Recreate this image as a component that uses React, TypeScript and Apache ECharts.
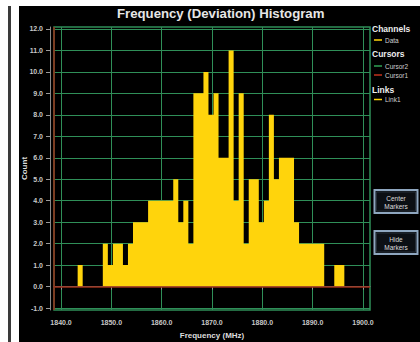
import React, { useEffect, useRef } from "react";
import * as echarts from "echarts";

// Histogram bins (MHz) and counts
const binStart = 1843.3;
const binWidth = 1.0;
const counts = [
  1, 0, 0, 0, 0, 2, 1, 2, 2, 1, 2, 3, 3, 3, 4, 4, 4, 4, 4, 5, 3, 4, 2, 9, 9, 10,
  8, 9, 6, 6, 11, 4, 9, 2, 5, 5, 3, 4, 8, 5, 6, 6, 6, 3, 2, 2, 2, 2, 2, 0, 0, 1,
  1, 0,
];
const xTicks = [1840, 1850, 1860, 1870, 1880, 1890, 1900];
const yTicks = [-1, 0, 1, 2, 3, 4, 5, 6, 7, 8, 9, 10, 11, 12];
const xRange = [1838.6, 1901.4];
const yRange = [-1.09, 12.09];

const FONT = '"Liberation Sans", Arial, sans-serif';
const YELLOW = "#ffd40c";
const GREEN = "#2f8f58";
const RED = "#9a2e18";

export default function App() {
  const ref = useRef<HTMLDivElement>(null);
  useEffect(() => {
    if (!ref.current) return;
    const chart = echarts.init(ref.current, undefined, { renderer: "svg" });
    const pts: number[][] = counts.map((c, i) => [binStart + i * binWidth, c]);
    pts.push([binStart + counts.length * binWidth, counts[counts.length - 1]]);

    const legendText = (text: string, x: number, y: number, bold: boolean) => ({
      type: "text",
      x,
      y,
      silent: true,
      style: {
        text,
        fill: bold ? "#eeeeee" : "#cfcfcf",
        fontSize: bold ? 8.5 : 6.5,
        fontWeight: bold ? "bold" : "normal",
        fontFamily: FONT,
        verticalAlign: "middle",
        align: "left",
      },
    });
    const legendLine = (color: string, y: number) => ({
      type: "line",
      silent: true,
      shape: { x1: 355, y1: y, x2: 363, y2: y },
      style: { stroke: color, lineWidth: 1.5 },
    });
    const button = (l1: string, l2: string, y: number) => ({
      type: "group",
      silent: true,
      children: [
        {
          type: "rect",
          shape: { x: 355.5, y: y, width: 43, height: 23 },
          style: { fill: "#0c0f14", stroke: "#8ea6bf", lineWidth: 2 },
        },
        {
          type: "rect",
          shape: { x: 357.5, y: y + 2, width: 39, height: 19 },
          style: { fill: "none", stroke: "#2c3540", lineWidth: 0.8 },
        },
        {
          type: "text",
          x: 377,
          y: y + 8,
          style: {
            text: l1,
            fill: "#dddddd",
            fontSize: 6.5,
            fontFamily: FONT,
            align: "center",
            verticalAlign: "middle",
          },
        },
        {
          type: "text",
          x: 377,
          y: y + 16,
          style: {
            text: l2,
            fill: "#dddddd",
            fontSize: 6.5,
            fontFamily: FONT,
            align: "center",
            verticalAlign: "middle",
          },
        },
      ],
    });

    chart.setOption({
      animation: false,
      backgroundColor: "#000000",
      title: {
        text: "Frequency (Deviation) Histogram",
        left: 98,
        top: 1,
        padding: 0,
        textStyle: {
          color: "#e6e6e6",
          fontSize: 13.2,
          fontWeight: "bold",
          fontFamily: FONT,
        },
      },
      grid: {
        left: 35,
        top: 21,
        width: 316,
        height: 283,
        containLabel: false,
        outerBoundsMode: "none",
        show: true,
        borderColor: GREEN,
        borderWidth: 1.5,
        backgroundColor: "transparent",
      },
      xAxis: {
        type: "value",
        min: xRange[0],
        max: xRange[1],
        offset: 3,
        name: "Frequency (MHz)",
        nameLocation: "middle",
        nameGap: 18,
        nameMoveOverlap: false,
        nameTextStyle: {
          color: "#dddddd",
          fontSize: 8,
          fontWeight: "bold",
          fontFamily: FONT,
        },
        axisLine: { show: true, lineStyle: { color: "#8a8a8a", width: 1 } },
        axisTick: {
          show: true,
          length: 3,
          customValues: xTicks,
          lineStyle: { color: "#9a9a9a" },
        },
        axisLabel: {
          customValues: xTicks,
          color: "#c8c8c8",
          fontSize: 7,
          fontWeight: "bold",
          fontFamily: FONT,
          margin: 6,
          formatter: (v: number) => v.toFixed(1),
        },
        splitLine: { show: true, lineStyle: { color: GREEN, width: 1 } },
      },
      yAxis: {
        type: "value",
        min: yRange[0],
        max: yRange[1],
        offset: 4,
        name: "Count",
        nameLocation: "middle",
        nameGap: 22,
        nameRotate: 90,
        nameMoveOverlap: false,
        nameTextStyle: {
          color: "#dddddd",
          fontSize: 8,
          fontWeight: "bold",
          fontFamily: FONT,
        },
        axisLine: { show: true, lineStyle: { color: "#8a8a8a", width: 1 } },
        axisTick: {
          show: true,
          length: 4,
          customValues: yTicks,
          lineStyle: { color: "#9a9a9a" },
        },
        axisLabel: {
          customValues: yTicks,
          color: "#c8c8c8",
          fontSize: 7,
          fontWeight: "bold",
          fontFamily: FONT,
          margin: 7,
          formatter: (v: number) => v.toFixed(1),
        },
        splitLine: { show: true, lineStyle: { color: GREEN, width: 1 } },
      },
      series: [
        {
          type: "line",
          name: "Data",
          step: "end",
          data: pts,
          showSymbol: false,
          symbol: "none",
          lineStyle: { width: 0, color: YELLOW },
          areaStyle: { color: YELLOW, opacity: 1, origin: 0 },
          z: 3,
          markLine: {
            silent: true,
            symbol: "none",
            label: { show: false },
            lineStyle: { color: RED, width: 1.5, type: "solid" },
            data: [{ yAxis: 0 }],
          },
        },
      ],
      graphic: [
        {
          type: "line",
          silent: true,
          z: 10,
          shape: { x1: 35, y1: 21, x2: 35, y2: 304 },
          style: { stroke: RED, lineWidth: 1.5 },
        },
        legendText("Channels", 353, 23, true),
        legendLine(YELLOW, 34),
        legendText("Data", 366, 34, false),
        legendText("Cursors", 353, 48, true),
        legendLine("#2fa055", 60),
        legendText("Cursor2", 366, 60, false),
        legendLine("#c0301c", 69),
        legendText("Cursor1", 366, 69, false),
        legendText("Links", 353, 84, true),
        legendLine(YELLOW, 93.5),
        legendText("Link1", 366, 93.5, false),
        button("Center", "Markers", 184),
        button("Hide", "Markers", 225),
      ],
    });
    return () => chart.dispose();
  }, []);

  return (
    <div
      style={{
        position: "fixed",
        left: 0,
        top: 0,
        width: 420,
        height: 342,
        background: "#ffffff",
        overflow: "hidden",
      }}
    >
      <div
        style={{
          position: "absolute",
          left: 8,
          top: 6,
          width: 2.5,
          height: 336,
          background: "#3a3a3a",
        }}
      />
      <div
        ref={ref}
        style={{ position: "absolute", left: 19, top: 6, width: 401, height: 336 }}
      />
    </div>
  );
}
